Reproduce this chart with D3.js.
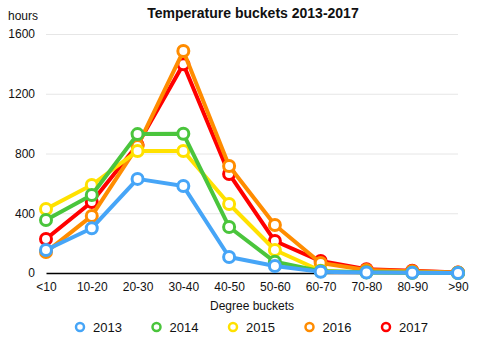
<!DOCTYPE html>
<html>
<head>
<meta charset="utf-8">
<script src="https://cdn.jsdelivr.net/npm/d3@7"></script>
<style>
  body { margin: 0; background: #fff; }
  text { font-family: "Liberation Sans", Arial, sans-serif; fill: #111; }
  .title { font-weight: bold; font-size: 14px; text-anchor: middle; }
  .axis text { font-size: 12px; }
  .grid line { stroke: #e6e6e6; }
</style>
</head>
<body>
<div id="chart"></div>
<script>
var buckets = ["<10", "10-20", "20-30", "30-40", "40-50", "50-60", "60-70", "70-80", "80-90", ">90"];
var years = ["2013", "2014", "2015", "2016", "2017"];
var colors = ["#46a5f7", "#4ac53c", "#ffe100", "#ff8c00", "#ff0000"];

var hours2013 = [154, 300, 630, 582, 107, 47, 8, 3, 1, 0];
var hours2014 = [355, 522, 930, 932, 308, 75, 12, 5, 2, 0];
var hours2015 = [428, 589, 817, 817, 462, 154, 15, 4, 1, 0];
var hours2016 = [140, 382, 850, 1486, 716, 321, 67, 20, 12, 3];
var hours2017 = [228, 475, 858, 1398, 663, 214, 80, 25, 15, 3];
var yTicks = [0, 400, 800, 1200, 1600];

var series = [hours2013, hours2014, hours2015, hours2016, hours2017].map(function(v, i) {
  return { year: years[i], color: colors[i], values: v };
});

var width = 498, height = 340;
var margin = {top: 34, right: 40, bottom: 67, left: 46};
var graphWidth = width - margin.left - margin.right;
var graphHeight = height - margin.top - margin.bottom;

var svg = d3.select("#chart")
  .append("svg")
  .attr("width", width)
  .attr("height", height);

var g = svg.append("g")
  .attr("transform", "translate(" + margin.left + "," + margin.top + ")");

var x = d3.scalePoint()
  .domain(buckets)
  .range([0, graphWidth]);

var y = d3.scaleLinear()
  .domain([0, 1600])
  .range([graphHeight, 0]);

// horizontal grid
g.append("g")
  .attr("class", "grid")
  .call(d3.axisLeft(y).tickValues(yTicks.slice(1)).tickSize(-graphWidth).tickFormat(""))
  .call(function(s) { s.select(".domain").remove(); });

// y axis labels
g.append("g")
  .attr("class", "axis")
  .attr("transform", "translate(-11,0)")
  .call(d3.axisLeft(y).tickValues(yTicks).tickSize(0).tickPadding(0).tickFormat(d3.format("d")))
  .call(function(s) { s.select(".domain").remove(); });

// x axis
var xAxis = g.append("g")
  .attr("class", "axis")
  .attr("transform", "translate(0," + graphHeight + ")")
  .call(d3.axisBottom(x).tickSize(0).tickPadding(9));
xAxis.select(".domain").attr("stroke", "#000").attr("stroke-width", 1.5);

svg.append("text")
  .attr("x", 8)
  .attr("y", 20)
  .style("font-size", "12px")
  .text("hours");

svg.append("text")
  .attr("class", "title")
  .attr("x", 253)
  .attr("y", 18)
  .text("Temperature buckets 2013-2017");

svg.append("text")
  .attr("x", 252)
  .attr("y", 310)
  .style("font-size", "12px")
  .style("text-anchor", "middle")
  .text("Degree buckets");

var line = d3.line()
  .x(function(d, i) { return x(buckets[i]); })
  .y(function(d) { return y(d); });

// later years underneath, 2013 on top
var drawOrder = series.slice().reverse();

var groups = g.selectAll(".series")
  .data(drawOrder)
  .enter()
  .append("g")
  .attr("class", "series");

groups.append("path")
  .attr("d", function(d) { return line(d.values); })
  .attr("fill", "none")
  .attr("stroke", function(d) { return d.color; })
  .attr("stroke-width", 4)
  .attr("stroke-linejoin", "round");

groups.selectAll("circle")
  .data(function(d) { return d.values.map(function(v, i) { return {v: v, i: i, color: d.color}; }); })
  .enter()
  .append("circle")
  .attr("cx", function(d) { return x(buckets[d.i]); })
  .attr("cy", function(d) { return y(d.v); })
  .attr("r", 5.5)
  .attr("fill", "#fff")
  .attr("stroke", function(d) { return d.color; })
  .attr("stroke-width", 3);

// legend
var legend = svg.selectAll(".legend")
  .data(series)
  .enter()
  .append("g")
  .attr("class", "legend")
  .attr("transform", function(d, i) { return "translate(" + (80 + i * 76.5) + ",327)"; });

legend.append("circle")
  .attr("r", 4)
  .attr("fill", "#fff")
  .attr("stroke", function(d) { return d.color; })
  .attr("stroke-width", 2.5);

legend.append("text")
  .attr("x", 13)
  .attr("dy", "0.36em")
  .style("font-size", "13px")
  .text(function(d) { return d.year; });
</script>
</body>
</html>
